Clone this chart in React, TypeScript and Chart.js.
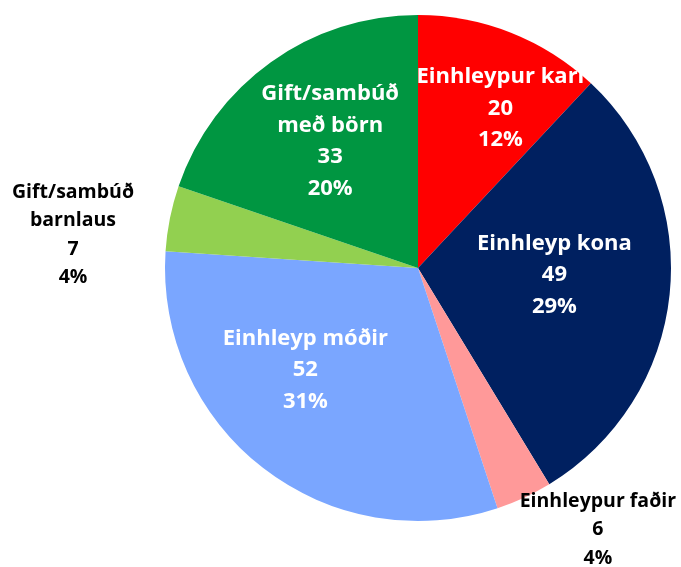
import React, { useEffect, useRef } from "react";
import { Chart, registerables } from "chart.js";

Chart.register(...registerables);

const categories = [
  "Einhleypur karl",
  "Einhleyp kona",
  "Einhleypur faðir",
  "Einhleyp móðir",
  "Gift/sambúð barnlaus",
  "Gift/sambúð með börn",
];
const labelLines = [
  ["Einhleypur karl"],
  ["Einhleyp kona"],
  ["Einhleypur faðir"],
  ["Einhleyp móðir"],
  ["Gift/sambúð", "barnlaus"],
  ["Gift/sambúð", "með börn"],
];
const values = [20, 49, 6, 52, 7, 33];

const colors = ["#FF0000", "#002060", "#FF9999", "#7AA6FF", "#92D050", "#009641"];
// label placement: [radius fraction, angle in degrees clockwise from top, inside?]
const placement: [number, number, boolean][] = [
  [0.71, 27.3, true],
  [0.54, 92.9, true],
  [1.255, 145.5, false],
  [0.6, 227.9, true],
  [1.37, 275.5, false],
  [0.61, 325.3, true],
];

const labelPlugin = {
  id: "sliceLabels",
  afterDatasetsDraw(chart: any) {
    const ctx = chart.ctx;
    const meta = chart.getDatasetMeta(0);
    const data = chart.data.datasets[0].data as number[];
    const total = data.reduce((a, b) => a + b, 0);
    meta.data.forEach((arc: any, i: number) => {
      const [rf, deg, inside] = placement[i];
      const a = (deg * Math.PI) / 180;
      const r = arc.outerRadius * rf;
      const cx = arc.x + r * Math.sin(a);
      const cy = arc.y - r * Math.cos(a);
      const lines = [...labelLines[i], String(data[i]), Math.round((data[i] / total) * 100) + "%"];
      const lh = inside ? 31.5 : 28.5;
      ctx.save();
      ctx.font = inside ? "bold 22px 'Open Sans'" : "bold 19.5px 'Open Sans'";
      ctx.fillStyle = inside ? "#FFFFFF" : "#000000";
      ctx.textAlign = "center";
      ctx.textBaseline = "middle";
      const start = cy - ((lines.length - 1) * lh) / 2;
      lines.forEach((t, k) => ctx.fillText(t, cx, start + k * lh));
      ctx.restore();
    });
  },
};

export default function App() {
  const ref = useRef<HTMLCanvasElement | null>(null);
  useEffect(() => {
    if (!ref.current) return;
    const chart = new Chart(ref.current, {
      type: "pie",
      data: {
        labels: categories,
        datasets: [
          {
            data: values,
            backgroundColor: colors,
            borderWidth: 0,
          },
        ],
      },
      options: {
        animation: false,
        responsive: false,
        layout: { padding: { left: 165, top: 15, right: 10, bottom: 46 } },
        plugins: {
          legend: { display: false },
          tooltip: { enabled: false },
        },
      },
      plugins: [labelPlugin],
    });
    return () => chart.destroy();
  }, []);
  return (
    <div style={{ position: "fixed", left: 0, top: 0, width: 681, height: 567 }}>
      <canvas ref={ref} width={681} height={567} style={{ display: "block" }} />
    </div>
  );
}
